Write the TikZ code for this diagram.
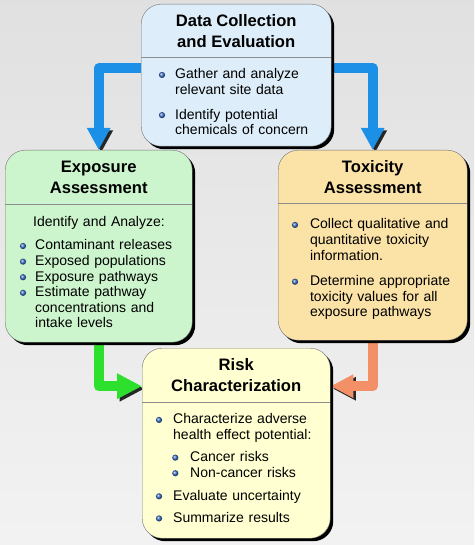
\documentclass[tikz,border=0pt]{standalone}
\usepackage{fontspec}
\setmainfont{Liberation Sans}
\usetikzlibrary{arrows.meta,shadows,backgrounds}

\definecolor{dataC}{HTML}{DDEEFA}
\definecolor{expoC}{HTML}{CDF5CD}
\definecolor{toxiC}{HTML}{FBE2A6}
\definecolor{riskC}{HTML}{FFFFD2}
\definecolor{blueA}{HTML}{1C8FE6}
\definecolor{greenA}{HTML}{2EE02E}
\definecolor{orangeA}{HTML}{F49068}
\definecolor{dotC}{HTML}{3A6FC8}

\begin{document}
\begin{tikzpicture}[x=1pt,y=-1pt,
  box/.style={draw=black!55, rounded corners=20pt, inner sep=0pt, anchor=north west,
    drop shadow={shadow xshift=3pt, shadow yshift=-3pt, opacity=1, fill=black}},
  head/.style={anchor=north, inner sep=0pt, align=center,
    font=\bfseries\fontsize{16.6}{21}\selectfont},
  body/.style={anchor=north west, inner sep=0pt, align=left,
    font=\fontsize{14}{15.6}\selectfont},
  rule/.style={draw=black!45},
  flow/.style={line width=10pt, line join=round, -{Triangle[length=22pt,width=22pt]},
    preaction={draw=black!85, transform canvas={shift={(2.5pt,-2.5pt)}}}}
]

\newcommand{\ball}{\tikz[baseline=-3.9pt]\shade[ball color=dotC] (0,0) circle (3.1pt);}
\newcommand{\nl}{\hfil\break}
\newcommand{\itm}[2][16pt] % [indent]{text}
{\hangindent=#1\hangafter=1\noindent\makebox[#1][l]{\hspace*{-0.3pt}\ball}#2\par}
\newcommand{\sub}[1]
{\hangindent=34pt\hangafter=1\noindent\hspace*{16pt}\makebox[18pt][l]{\ball}#1\par}

\useasboundingbox (0,0) rectangle (474,545);

% boxes
\node[box, fill=dataC, minimum width=190pt, minimum height=142pt] (data) at (141,4) {};
\node[head, minimum width=190pt, minimum height=53pt] (dataH) at (data.north) {Data Collection\\and Evaluation};
\draw[rule] (dataH.south west) -- (dataH.south east);
\node[body, text width=165pt] (dataB) at (159,68.5)
 {\itm[16pt]{Gather and analyze\nl relevant site data}\vspace{9pt}
  \itm[16pt]{Identify potential\nl chemicals of concern}};

\node[box, fill=expoC, minimum width=187pt, minimum height=192pt] (expo) at (5,150) {};
\node[head, minimum width=187pt, minimum height=54pt] (expoH) at (expo.north) {Exposure\\Assessment};
\draw[rule] (expoH.south west) -- (expoH.south east);
\node[body, text width=168pt] (expoB) at (20,216.5)
 {\hspace*{13pt}Identify and Analyze:\par\vspace{7.5pt}
  \itm[15pt]{Contaminant releases}
  \itm[15pt]{Exposed populations}
  \itm[15pt]{Exposure pathways}
  \itm[15pt]{Estimate pathway\nl concentrations and\nl intake levels}};

\node[box, fill=toxiC, minimum width=189pt, minimum height=190pt] (toxi) at (278,150) {};
\node[head, minimum width=189pt, minimum height=53pt] (toxiH) at (toxi.north) {Toxicity\\Assessment};
\draw[rule] (toxiH.south west) -- (toxiH.south east);
\node[body, text width=172pt] (toxiB) at (292,218.5)
 {\itm[17.8pt]{Collect qualitative and\nl quantitative toxicity\nl information.}\vspace{10pt}
  \itm[17.8pt]{Determine appropriate\nl toxicity values for all\nl exposure pathways}};

\node[box, fill=riskC, minimum width=188pt, minimum height=190pt] (risk) at (142,348) {};
\node[head, minimum width=188pt, minimum height=54pt] (riskH) at (risk.north) {Risk\\Characterization};
\draw[rule] (riskH.south west) -- (riskH.south east);
\node[body, text width=170pt] (riskB) at (156,413.5)
 {\itm[17pt]{Characterize adverse\nl health effect potential:}\vspace{6.5pt}
  \sub{Cancer risks}
  \sub{Non-cancer risks}\vspace{7.5pt}
  \itm[17pt]{Evaluate uncertainty}\vspace{6.5pt}
  \itm[17pt]{Summarize results}};

% background and arrows
\begin{scope}[on background layer]
 \shade[top color=black!12, bottom color=black!5] (0,0) rectangle (474,545);
 \draw[flow, blueA] ([yshift=7pt]data.west) -| (expo.north);
 \draw[flow, blueA] ([yshift=7pt]data.east) -| (toxi.north);
 \draw[flow, greenA, -{Triangle[length=25pt,width=24pt]}] (expo.south) |- ([yshift=57pt]risk.west);
 \draw[flow, orangeA, -{Triangle[length=23pt,width=22pt]}] (toxi.south) |- ([yshift=57pt]risk.east);
\end{scope}

\end{tikzpicture}
\end{document}
